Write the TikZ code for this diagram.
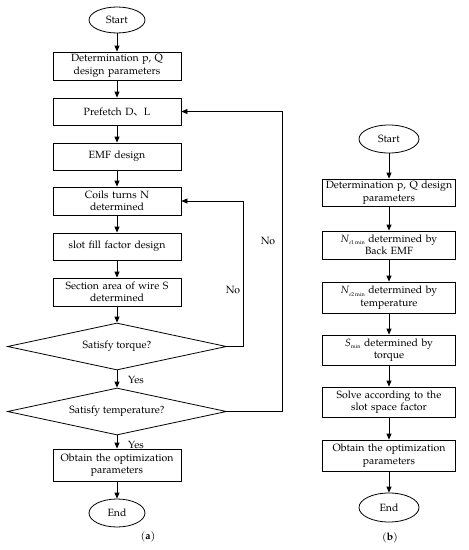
\documentclass[tikz,border=0pt]{standalone}
\usepackage{fontspec}
\setmainfont{texgyrepagella}[Extension=.otf, UprightFont=*-regular, BoldFont=*-bold, ItalicFont=*-italic, BoldItalicFont=*-bolditalic]
\newfontfamily\cjk{Noto Sans CJK SC}
\usetikzlibrary{shapes.geometric,arrows.meta}
\tikzset{
  every node/.style={font=\fontsize{10.5}{12.5}\selectfont},
  stepbox/.style={draw, line width=0.8pt, minimum width=128pt, inner sep=1pt, align=center, text width=124pt},
  stepboxb/.style={draw, line width=0.8pt, minimum width=133pt, inner sep=1pt, align=center, text width=129pt},
  term/.style={draw, ellipse, line width=0.8pt, inner sep=0pt},
  decide/.style={draw, diamond, aspect=4.66, line width=0.8pt, inner sep=0pt, minimum width=219pt, minimum height=47pt},
  flow/.style={line width=0.8pt, -{Triangle[length=6pt,width=5pt]}},
  lbl/.style={inner sep=0pt}
}
\begin{document}
\begin{tikzpicture}[x=1pt,y=-1pt]
\useasboundingbox (0,0) rectangle (469,550);
% (a)
\node[term, minimum width=56pt, minimum height=26pt] (sa) at (117,20) {Start};
\node[stepbox, minimum height=28pt] (a1) at (117,66) {Determination p, Q\\design parameters};
\node[stepbox, minimum height=27pt] (a2) at (117,111.5) {Prefetch D{\cjk 、}L};
\node[stepbox, minimum height=27pt] (a3) at (117,156.5) {EMF design};
\node[stepbox, minimum height=28pt] (a4) at (117,201) {Coils turns N\\determined};
\node[stepbox, minimum height=27pt] (a5) at (117,246.5) {slot fill factor design};
\node[stepbox, minimum height=28pt] (a6) at (117,292) {Section area of wire S\\determined};
\node[decide] (d1) at (117,346.5) {Satisfy torque?};
\node[decide] (d2) at (117,411.5) {Satisfy temperature?};
\node[stepbox, minimum height=32pt] (a7) at (117,465) {Obtain the optimization\\parameters};
\node[term, minimum width=56pt, minimum height=28pt] (ea) at (117,513) {End};
\node[lbl] (capa) at (148,537) {(\textbf{a})};
\draw[flow] (sa) -- (a1);
\draw[flow] (a1) -- (a2);
\draw[flow] (a2) -- (a3);
\draw[flow] (a3) -- (a4);
\draw[flow] (a4) -- (a5);
\draw[flow] (a5) -- (a6);
\draw[flow] (a6) -- (d1);
\draw[flow] (d1) -- (d2);
\draw[flow] (d2) -- (a7);
\draw[flow] (a7) -- (ea);
\coordinate (r1) at (243,346.5);
\coordinate (r2) at (282,411.5);
\draw[flow] (d1.east) -- (r1) |- (a4.east);
\draw[flow] (d2.east) -- (r2) |- (a2.east);
\node[lbl] (no1) at (233,290) {No};
\node[lbl] (no2) at (268,241) {No};
\node[lbl] (y1) at (136,380) {Yes};
\node[lbl] (y2) at (136,445) {Yes};
% (b)
\node[term, minimum width=60pt, minimum height=28pt] (sb) at (389,139) {Start};
\node[stepboxb, minimum height=27pt] (b1) at (389,192.5) {Determination p, Q design\\parameters};
\node[stepboxb, minimum height=28pt] (b2) at (389,245) {\textit{N}{\raisebox{-.5ex}{\fontsize{5.5}{6}\selectfont\textit{e}1\,min}} determined by\\Back EMF};
\node[stepboxb, minimum height=31pt] (b3) at (389,297.5) {\textit{N}{\raisebox{-.5ex}{\fontsize{5.5}{6}\selectfont\textit{e}2\,min}} determined by\\temperature};
\node[stepboxb, minimum height=30pt] (b4) at (389,350) {\textit{S}{\raisebox{-.5ex}{\fontsize{5.5}{6}\selectfont min}} determined by\\torque};
\node[stepboxb, minimum height=30pt] (b5) at (389,402) {Solve according to the\\slot space factor};
\node[stepboxb, minimum height=31pt] (b6) at (389,455.5) {Obtain the optimization\\parameters};
\node[term, minimum width=60pt, minimum height=29pt] (eb) at (389,507.5) {End};
\node[lbl] (capb) at (390,538) {(\textbf{b})};
\draw[flow] (sb) -- (b1);
\draw[flow] (b1) -- (b2);
\draw[flow] (b2) -- (b3);
\draw[flow] (b3) -- (b4);
\draw[flow] (b4) -- (b5);
\draw[flow] (b5) -- (b6);
\draw[flow] (b6) -- (eb);
\end{tikzpicture}
\end{document}
